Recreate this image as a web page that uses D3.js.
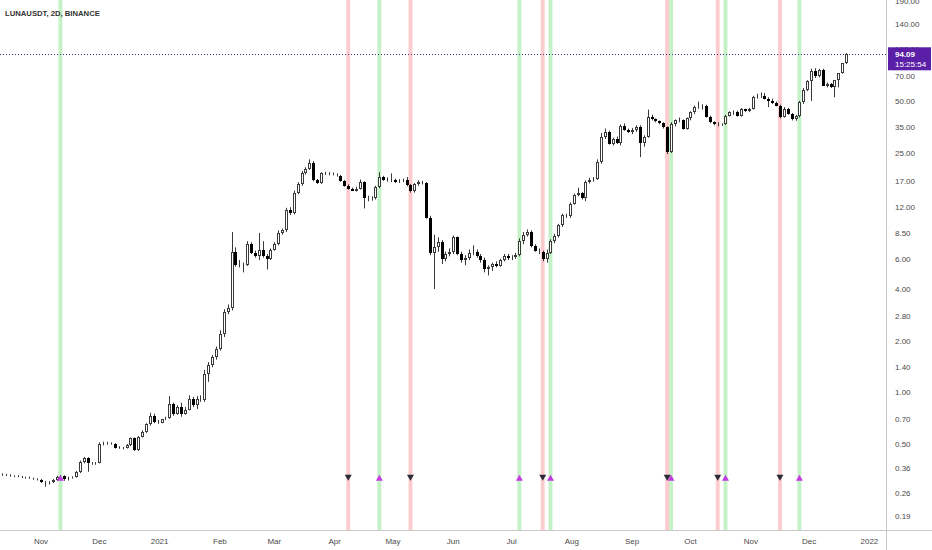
<!DOCTYPE html>
<html><head><meta charset="utf-8">
<script src="https://cdn.jsdelivr.net/npm/d3@7"></script>
<style>body{margin:0;background:#fff;}svg{display:block;font-family:"Liberation Sans",Arial,sans-serif;}</style>
</head><body><svg id="c" width="932" height="550"></svg>
<script>
// ---------------- DATA ----------------
const title = "LUNAUSDT, 2D, BINANCE";
const firstBarDate = "2020-10-12";   // 2-day bars
const barDays = 2;
const opens = [
.332,.330,.329,.324,.325,.322,.318,.319,.315,.312,
.310,.300,.298,.300,.308,.320,.326,.314,.318,.321,
.342,.390,.412,.385,.383,.388,.500,.505,.503,.500,
.475,.472,.474,.490,.540,.462,.550,.585,.650,.730,
.670,.665,.695,.710,.860,.750,.820,.750,.790,.920,
.840,.910,.900,1.27,1.45,1.60,1.80,2.20,2.95,3.10,
6.60,5.50,5.60,5.55,7.30,6.50,6.25,6.80,6.20,6.00,
6.80,7.30,8.50,8.80,11.6,11.1,14.6,16.4,19.0,20.1,
21.8,17.2,16.6,18.9,18.7,18.8,18.6,18.3,17.1,16.0,
15.4,15.0,15.4,16.8,13.5,13.4,13.6,15.8,17.9,17.4,
17.3,17.4,16.9,17.1,17.3,16.2,14.9,16.4,16.9,16.6,
10.4,6.50,7.00,7.50,6.00,6.40,6.60,8.00,6.40,5.90,
6.10,6.50,6.60,6.20,5.90,5.20,5.40,5.60,5.45,5.90,
6.20,6.10,6.15,6.30,7.60,8.30,8.60,7.10,6.70,6.60,
6.00,6.50,7.60,8.20,9.40,10.8,10.6,12.6,14.2,14.5,
13.5,16.8,17.2,17.6,22.0,31.0,33.0,28.2,30.0,28.5,
35.5,34.0,33.0,34.0,35.2,28.6,31.0,40.5,39.0,38.0,
37.0,35.0,25.2,36.5,38.5,38.6,34.5,39.5,43.0,46.0,
46.5,47.0,40.5,37.5,36.6,36.2,36.6,41.0,42.8,43.2,
41.0,44.6,43.5,45.0,52.5,53.0,53.5,51.5,50.0,48.7,
47.0,40.5,45.0,42.0,39.0,40.8,49.0,58.0,65.0,75.0,
70.0,76.0,61.0,62.5,60.5,66.5,73.0,83.0];
const highs = [
.337,.334,.333,.328,.329,.325,.322,.323,.318,.315,
.313,.304,.303,.312,.326,.330,.328,.322,.324,.348,
.400,.420,.418,.392,.392,.510,.515,.515,.510,.505,
.485,.480,.500,.545,.545,.555,.600,.660,.760,.750,
.690,.700,.720,.950,.870,.840,.870,.820,.960,.940,
.950,.960,1.35,1.50,1.65,1.85,2.30,3.05,3.25,8.60,
7.00,5.90,5.70,7.60,7.50,6.70,8.50,7.60,6.40,6.90,
7.50,8.80,9.00,11.9,12.0,15.0,16.8,19.5,20.5,22.8,
22.3,17.5,19.2,19.3,19.2,19.1,18.9,18.5,17.3,16.3,
15.6,15.8,17.4,17.0,14.0,13.9,16.0,19.2,18.3,17.9,
18.9,17.6,17.5,17.6,18.0,16.4,16.6,17.2,17.1,16.8,
10.7,8.30,8.00,7.70,6.60,6.90,8.20,8.10,6.60,6.30,
6.80,7.20,6.80,6.40,6.10,5.50,5.70,5.80,6.00,6.40,
6.40,6.30,6.50,7.90,8.60,8.90,8.80,7.30,6.90,6.70,
6.80,7.80,8.40,9.60,11.0,11.0,12.8,14.4,15.6,14.7,
17.2,17.8,18.0,22.8,32.5,34.5,33.5,30.5,31.0,36.5,
37.0,34.5,34.8,36.0,36.0,31.5,44.5,41.5,39.5,38.5,
37.5,35.5,37.5,39.0,40.0,39.0,40.0,43.5,47.0,49.5,
47.8,47.5,41.0,38.0,37.5,37.0,41.5,43.5,44.0,43.8,
45.5,45.0,45.5,53.5,55.0,56.0,55.5,52.5,51.5,49.5,
47.5,46.0,45.5,42.5,41.5,50.0,59.5,66.0,77.0,77.5,
77.0,77.0,64.0,63.5,62.5,67.5,74.0,95.0];
const lows = [
.326,.325,.322,.320,.320,.316,.314,.313,.309,.306,
.296,.281,.290,.296,.304,.314,.305,.306,.314,.318,
.338,.385,.344,.378,.378,.385,.490,.495,.495,.470,
.468,.465,.470,.485,.455,.455,.545,.580,.640,.660,
.655,.660,.690,.700,.730,.740,.720,.740,.785,.820,
.800,.880,.880,1.15,1.40,1.55,1.75,2.10,2.85,3.00,
5.40,5.35,5.00,5.45,6.40,6.10,5.90,6.10,5.20,5.90,
6.70,7.20,8.30,8.60,10.8,10.9,14.3,16.0,18.6,19.8,
17.0,16.4,16.4,18.5,18.4,18.4,18.1,16.9,15.8,15.2,
14.9,14.8,15.2,11.8,13.0,13.1,13.3,15.5,17.1,16.9,
16.8,16.6,16.6,16.8,15.9,14.6,14.6,16.0,16.3,10.3,
6.30,4.00,6.60,5.60,5.80,6.20,6.40,6.30,5.70,5.50,
5.90,6.30,6.10,5.70,5.00,4.80,5.10,5.35,5.40,5.80,
5.90,5.90,6.00,6.20,7.30,8.10,7.00,6.60,6.40,5.80,
5.70,6.40,7.40,8.00,9.20,10.4,10.4,12.4,13.9,13.3,
13.0,16.5,16.9,17.3,21.5,30.0,27.8,27.5,28.0,27.5,
33.5,32.5,32.0,33.0,23.5,27.0,30.5,38.5,37.5,36.5,
34.5,24.5,24.8,35.5,37.5,34.0,34.0,38.5,42.0,45.0,
44.5,40.0,37.0,36.0,35.5,35.8,36.2,40.5,41.5,40.5,
40.5,43.0,43.0,44.5,51.5,52.0,51.0,46.0,48.0,46.5,
39.5,40.0,41.5,38.5,38.3,40.0,48.0,57.0,50.0,68.0,
68.5,61.0,60.0,59.5,52.5,60.0,72.0,82.0];
const closes = [
.330,.329,.324,.325,.322,.318,.319,.315,.312,.310,
.300,.298,.300,.308,.320,.326,.314,.318,.321,.342,
.390,.412,.385,.383,.388,.500,.505,.503,.500,.475,
.472,.474,.490,.540,.462,.550,.585,.650,.730,.670,
.665,.695,.710,.860,.750,.820,.750,.790,.920,.840,
.910,.900,1.27,1.45,1.60,1.80,2.20,2.95,3.10,6.60,
5.50,5.60,5.55,7.30,6.50,6.25,6.80,6.20,6.00,6.80,
7.30,8.50,8.80,11.6,11.1,14.6,16.4,19.0,20.1,21.8,
17.2,16.6,18.9,18.7,18.8,18.6,18.3,17.1,16.0,15.4,
15.0,15.4,16.8,13.5,13.4,13.6,15.8,17.9,17.4,17.3,
17.4,16.9,17.1,17.3,16.2,14.9,16.4,16.9,16.6,10.4,
6.50,7.00,7.50,6.00,6.40,6.60,8.00,6.40,5.90,6.10,
6.50,6.60,6.20,5.90,5.20,5.40,5.60,5.45,5.90,6.20,
6.10,6.15,6.30,7.60,8.30,8.60,7.10,6.70,6.60,6.00,
6.50,7.60,8.20,9.40,10.8,10.6,12.6,14.2,14.5,13.5,
16.8,17.2,17.6,22.0,31.0,33.0,28.2,30.0,28.5,35.5,
34.0,33.0,34.0,35.2,28.6,31.0,40.5,39.0,38.0,37.0,
35.0,25.2,36.5,38.5,38.6,34.5,39.5,43.0,46.0,46.5,
47.0,40.5,37.5,36.6,36.2,36.6,41.0,42.8,43.2,41.0,
44.6,43.5,45.0,52.5,53.0,53.5,51.5,50.0,48.7,47.0,
40.5,45.0,42.0,39.0,40.8,49.0,58.0,65.0,75.0,70.0,
76.0,61.0,62.5,60.5,66.5,73.0,83.0,94.09];
const buySignals  = ["2020-11-11","2021-04-24","2021-07-05","2021-07-21","2021-09-21","2021-10-19","2021-11-26"];
const sellSignals = ["2021-04-08","2021-05-10","2021-07-17","2021-09-19","2021-10-15","2021-11-16"];
const priceTicks = [190,140,100,70,50,35,25,17,12,8.5,6,4,2.8,2,1.4,1,0.7,0.5,0.36,0.26,0.19];
const timeTickDates  = ["2020-11-01","2020-12-01","2021-01-01","2021-02-01","2021-03-01","2021-04-01","2021-05-01","2021-06-01","2021-07-01","2021-08-01","2021-09-01","2021-10-01","2021-11-01","2021-12-01","2022-01-01"];
const timeTickLabels = ["Nov","Dec","2021","Feb","Mar","Apr","May","Jun","Jul","Aug","Sep","Oct","Nov","Dec","2022"];
const lastPrice = 94.09;
const countdown = "15:25:54";
const signalMarkerPrice = 0.318;

// ---------------- CHART ----------------
const svg = d3.select("#c");
const plotW = 886, plotH = 530;
const parse = d3.utcParse("%Y-%m-%d");
const DAY = 864e5;
const t0 = parse(firstBarDate);
const bars = closes.map((c,i)=>({date:new Date(+t0 + i*barDays*DAY), o:opens[i], h:highs[i], l:lows[i], c}));

const x = d3.scaleUtc().domain([parse("2020-11-01"), parse("2022-01-01")]).range([41, 869.4]);
const y = d3.scaleLog().domain([0.19, lastPrice]).range([516, 53.8]);
const barW = x(new Date(+t0 + barDays*DAY)) - x(t0);

svg.append("rect").attr("width",932).attr("height",550).attr("fill","#fff");
svg.append("defs").append("clipPath").attr("id","clip").append("rect").attr("width",plotW).attr("height",plotH);
const g = svg.append("g").attr("clip-path","url(#clip)");

// background bands
const bandG = g.append("g");
bandG.selectAll("rect.buy").data(buySignals).join("rect")
  .attr("x",d=>x(parse(d))-barW/2).attr("width",barW).attr("y",0).attr("height",plotH)
  .attr("fill","#c5f1c6");
bandG.selectAll("rect.sell").data(sellSignals).join("rect")
  .attr("x",d=>x(parse(d))-barW/2).attr("width",barW).attr("y",0).attr("height",plotH)
  .attr("fill","#fccbcd");

// last price line
g.append("line").attr("x1",0).attr("x2",plotW).attr("y1",Math.round(y(lastPrice))+0.5).attr("y2",Math.round(y(lastPrice))+0.5)
  .attr("stroke","#3b2a80").attr("stroke-width",1).attr("stroke-dasharray","1,2");

// candles
const cg = g.append("g");
bars.forEach(b=>{
  const px = Math.round(x(b.date));
  const up = b.c >= b.o;
  cg.append("line").attr("x1",px+0.5).attr("x2",px+0.5).attr("y1",y(b.h)).attr("y2",y(b.l))
    .attr("stroke","#3a3a3a").attr("stroke-width",1);
  const top = Math.round(y(Math.max(b.o,b.c))), bot = Math.round(y(Math.min(b.o,b.c)));
  const hgt = Math.max(1, bot-top);
  cg.append("rect").attr("x",px-0.5).attr("width",2).attr("y",top+0.5).attr("height",Math.max(0,hgt-1))
    .attr("fill", up ? "#fff" : "#000").attr("stroke", up ? "#3a3a3a" : "#000").attr("stroke-width",1);
});

// signal markers
const my = y(signalMarkerPrice);
g.selectAll("path.buy").data(buySignals).join("path")
  .attr("d",d=>{const cx=x(parse(d)); return `M${cx-3.5},${my+3}L${cx+3.5},${my+3}L${cx},${my-3}Z`;})
  .attr("fill","#c23ae0");
g.selectAll("path.sell").data(sellSignals).join("path")
  .attr("d",d=>{const cx=x(parse(d)); return `M${cx-3.5},${my-3}L${cx+3.5},${my-3}L${cx},${my+3}Z`;})
  .attr("fill","#2b2b36");

// axes frame
svg.append("line").attr("x1",plotW+0.5).attr("x2",plotW+0.5).attr("y1",0).attr("y2",550).attr("stroke","#c9c9c9");
svg.append("line").attr("x1",0).attr("x2",932).attr("y1",plotH+0.5).attr("y2",plotH+0.5).attr("stroke","#c9c9c9");

// price axis labels
svg.append("g").selectAll("text").data(priceTicks).join("text")
  .attr("x",895).attr("y",d=>y(d)+3).attr("font-size",8).attr("fill","#4a4a4a")
  .text(d=>d.toFixed(2));

// time axis labels
svg.append("g").selectAll("text").data(timeTickDates).join("text")
  .attr("x",d=>x(parse(d))).attr("y",544).attr("text-anchor","middle").attr("font-size",8).attr("fill","#4a4a4a")
  .text((d,i)=>timeTickLabels[i]);

// last price label
const ly = y(lastPrice);
svg.append("rect").attr("x",888).attr("y",ly-6.5).attr("width",43).attr("height",23).attr("fill","#5b1ea6");
svg.append("text").attr("x",895).attr("y",ly+3).attr("font-size",8).attr("fill","#fff").attr("font-weight","bold").text(lastPrice.toFixed(2));
svg.append("text").attr("x",895).attr("y",ly+13.5).attr("font-size",8).attr("fill","#fff").text(countdown);

// title
svg.append("text").attr("x",5).attr("y",15.5).attr("font-size",7.7).attr("font-weight","bold").attr("fill","#333").text(title);
</script></body></html>
